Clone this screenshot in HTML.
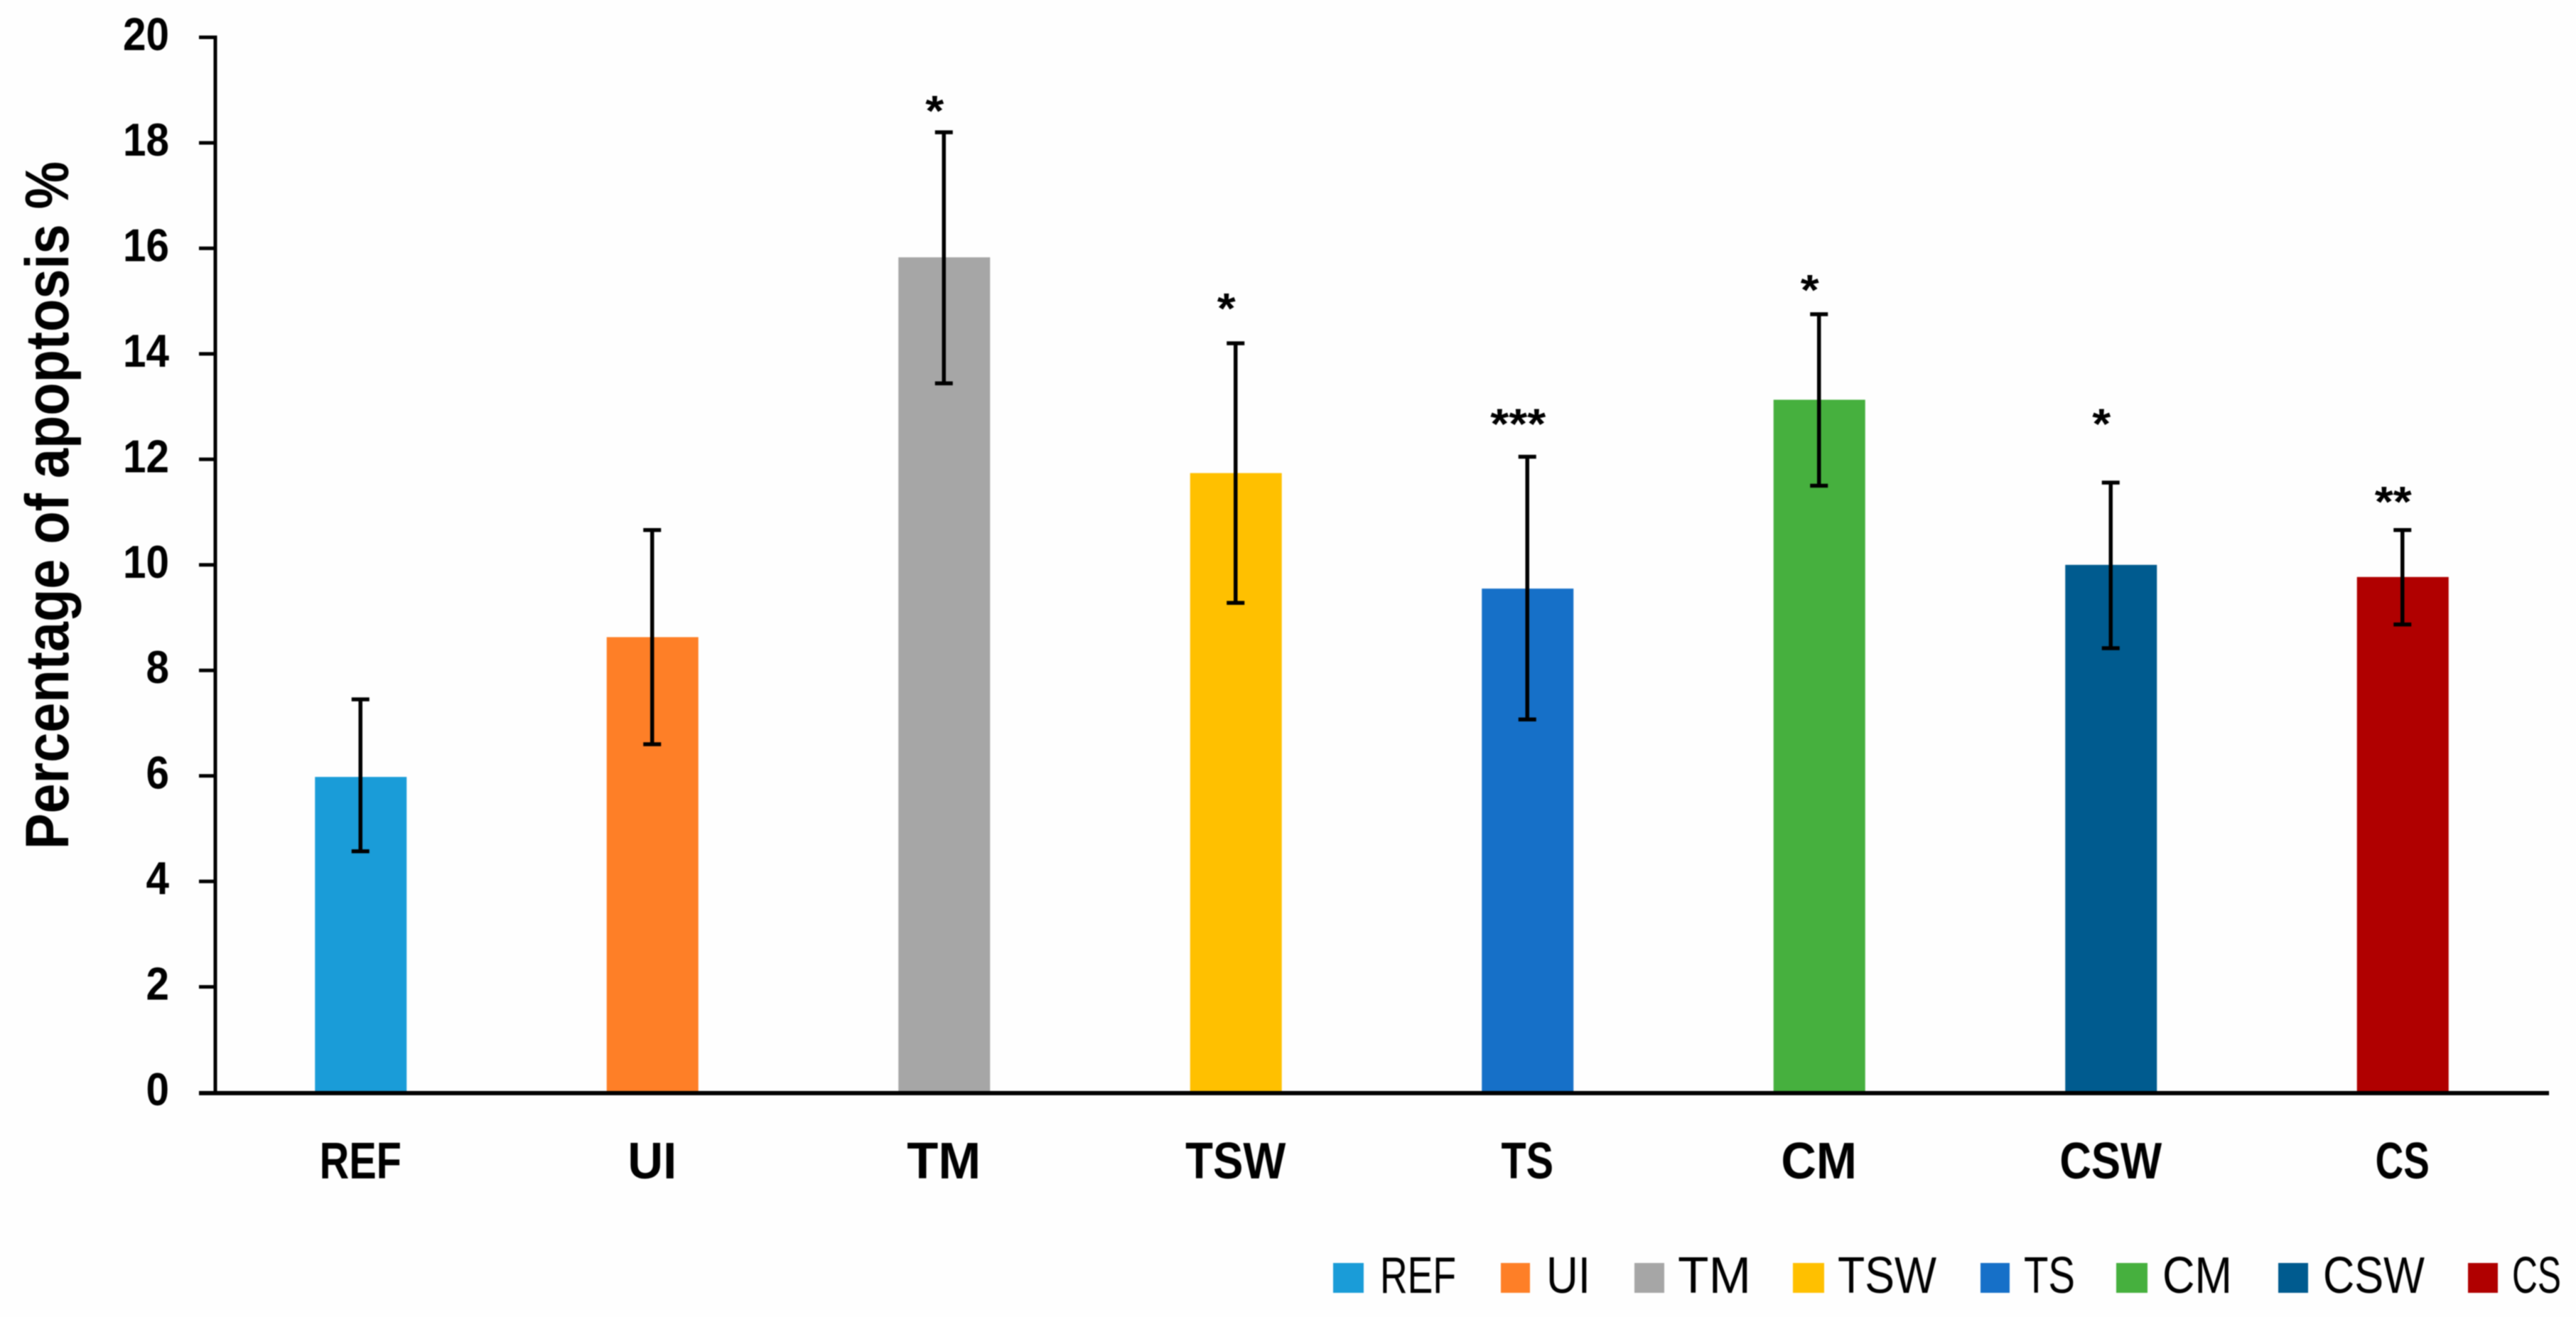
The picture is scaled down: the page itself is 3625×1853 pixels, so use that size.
<!DOCTYPE html>
<html lang="en">
<head>
<meta charset="utf-8">
<title>Percentage of apoptosis</title>
<style>
html,body{margin:0;padding:0;background:#fefefe;width:3625px;height:1853px;overflow:hidden}
svg{display:block;filter:blur(0.8px)}
text{fill:#000;font-family:"Liberation Sans",Arial,sans-serif}
</style>
</head>
<body>
<svg id="chart" xmlns="http://www.w3.org/2000/svg" width="3625" height="1853" viewBox="0 0 3625 1853">
<rect x="0" y="0" width="3625" height="1853" fill="#fefefe"/>
<text transform="translate(96 1195) rotate(-90)" font-size="86" font-weight="700" textLength="968" lengthAdjust="spacingAndGlyphs">Percentage of apoptosis %</text>
<g id="marks"></g>
<g>
<g><rect x="1876" y="1777" width="43" height="42" fill="#1a9cd8"/><text x="1942" y="1819" font-size="72" textLength="107" lengthAdjust="spacingAndGlyphs">REF</text></g>
<g><rect x="2112" y="1777" width="41" height="42" fill="#fe7f27"/><text x="2176" y="1819" font-size="72" textLength="62" lengthAdjust="spacingAndGlyphs">UI</text></g>
<g><rect x="2300" y="1777" width="42" height="42" fill="#a6a6a6"/><text x="2361" y="1819" font-size="72" textLength="103" lengthAdjust="spacingAndGlyphs">TM</text></g>
<g><rect x="2523" y="1777" width="44" height="42" fill="#ffc000"/><text x="2586" y="1819" font-size="72" textLength="139" lengthAdjust="spacingAndGlyphs">TSW</text></g>
<g><rect x="2787" y="1777" width="41" height="42" fill="#1670c8"/><text x="2848" y="1819" font-size="72" textLength="72" lengthAdjust="spacingAndGlyphs">TS</text></g>
<g><rect x="2978" y="1777" width="44" height="42" fill="#46b03e"/><text x="3043" y="1819" font-size="72" textLength="98" lengthAdjust="spacingAndGlyphs">CM</text></g>
<g><rect x="3206" y="1777" width="42" height="42" fill="#005b8f"/><text x="3269" y="1819" font-size="72" textLength="143" lengthAdjust="spacingAndGlyphs">CSW</text></g>
<g><rect x="3473" y="1777" width="42" height="42" fill="#b00000"/><text x="3535" y="1819" font-size="72" textLength="69" lengthAdjust="spacingAndGlyphs">CS</text></g>
</g>
</svg>
<script>
const categories = ["REF","UI","TM","TSW","TS","CM","CSW","CS"];
const meanValues = [5.98,8.63,15.83,11.74,9.55,13.13,10.0,9.77];
const errorHigh = [7.45,10.66,18.2,14.2,12.05,14.75,11.56,10.66];
const errorLow = [4.57,6.6,13.44,9.28,7.07,11.5,8.42,8.87];
const starLabels = ["","","*","*","***","*","*","**"];
const starLevels = [0,0,18.69,14.95,12.76,15.3,12.76,11.28];
const barColors = ["#1a9cd8","#fe7f27","#a6a6a6","#ffc000","#1670c8","#46b03e","#005b8f","#b00000"];
const yTicks = [0,2,4,6,8,10,12,14,16,18,20];

const NS = "http://www.w3.org/2000/svg";
const root = document.getElementById("marks");
const plotLeft = 303, plotRight = 3587, yZero = 1537, yTop = 52.5, yMax = 20;
const y = v => yZero - (v / yMax) * (yZero - yTop);
const x = i => plotLeft + (i + 0.5) * (plotRight - plotLeft) / categories.length;
const boldWidths = {R:.563,E:.495,F:.459,U:.642,I:.267,T:.495,M:.874,S:.473,W:.89,C:.529};
const labelWidth = s => [...s].reduce((sum, ch) => sum + boldWidths[ch], 0) * 76;

function make(tag, attrs, content) {
  const el = document.createElementNS(NS, tag);
  for (const k in attrs) el.setAttribute(k, attrs[k]);
  if (content !== undefined) el.textContent = content;
  root.appendChild(el);
  return el;
}

categories.forEach((cat, i) => {
  const key = cat.toLowerCase();
  const bar = make("rect", {x: x(i) - 65, y: y(meanValues[i]), width: 129, height: yZero - y(meanValues[i]), fill: barColors[i]});
  
  
});

const yAxis = make("line", {x1: plotLeft, x2: plotLeft, y1: y(yMax) - 2.5, y2: yZero, stroke: "#000", "stroke-width": 5});


const xAxis = make("line", {x1: plotLeft, x2: plotRight, y1: yZero + 1, y2: yZero + 1, stroke: "#000", "stroke-width": 6});



yTicks.forEach(t => {
  const mark = make("line", {x1: 280, x2: plotLeft, y1: y(t) + (t === 0 ? 1 : 0), y2: y(t) + (t === 0 ? 1 : 0), stroke: "#000", "stroke-width": t === 0 ? 6 : 5});
  
  
  const label = make("text", {x: 238, y: y(t) + 18, "text-anchor": "end", "font-size": 65, "font-weight": 700, textLength: String(t).length * 32.5, lengthAdjust: "spacingAndGlyphs"}, String(t));
  
  
});

categories.forEach((cat, i) => {
  const key = cat.toLowerCase();
  const cx = x(i) - 1;
  const stem = make("line", {x1: cx, x2: cx, y1: y(errorHigh[i]), y2: y(errorLow[i]), stroke: "#000", "stroke-width": 5.5});
  
  
  const capTop = make("line", {x1: cx - 12.5, x2: cx + 12.5, y1: y(errorHigh[i]), y2: y(errorHigh[i]), stroke: "#000", "stroke-width": 5.5});
  
  
  const capLow = make("line", {x1: cx - 12.5, x2: cx + 12.5, y1: y(errorLow[i]), y2: y(errorLow[i]), stroke: "#000", "stroke-width": 5.5});
  
  
  const tick = make("text", {x: cx, y: 1658, "text-anchor": "middle", "font-size": 72, "font-weight": 700, textLength: labelWidth(cat), lengthAdjust: "spacingAndGlyphs"}, cat);
  
  
  if (starLabels[i]) {
    const star = make("text", {x: cx - 13, y: y(starLevels[i]) + 27, "text-anchor": "middle", "font-size": 60, "font-weight": 700, textLength: starLabels[i].length * 26, lengthAdjust: "spacingAndGlyphs"}, starLabels[i]);
    
    
  }
});
</script>
</body>
</html>
